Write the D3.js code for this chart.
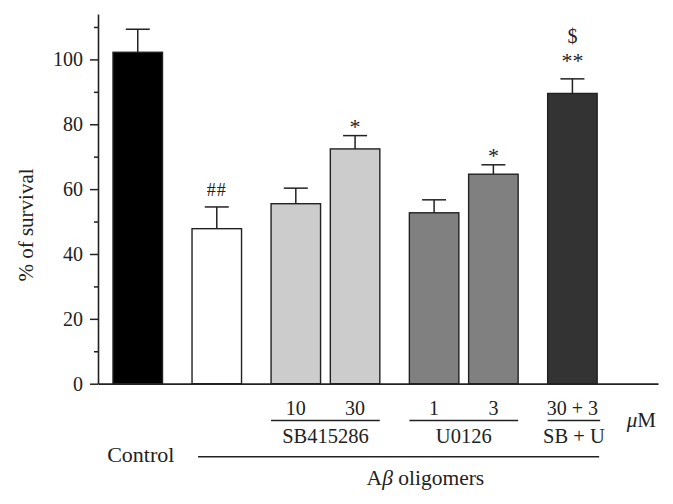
<!DOCTYPE html>
<html>
<head>
<meta charset="utf-8">
<script src="https://cdn.jsdelivr.net/npm/d3@7"></script>
<style>
  html, body { margin: 0; padding: 0; background: #fff; }
  #chart { width: 673px; height: 504px; }
  text { font-family: "Liberation Serif", "Times New Roman", serif; fill: #222; }
</style>
</head>
<body>
<div id="chart"></div>
<script>
(function () {
  'use strict';

  // --- Data ---
  var groups      = ['Control', 'Abeta', 'SB415286', 'SB415286', 'U0126', 'U0126', 'SB + U'];
  var doses       = ['', '', '10', '30', '1', '3', '30 + 3'];
  var survival    = [102.2, 47.8, 55.5, 72.4, 52.7, 64.6, 89.5];
  var sem         = [7.1, 6.7, 4.8, 4.1, 4.0, 2.9, 4.5];
  var marks       = [[], ['##'], [], ['*'], [], ['*'], ['**', '$']];
  var fills       = ['#000000', '#ffffff', '#cccccc', '#cccccc', '#808080', '#808080', '#333333'];
  var drugGroups  = ['SB415286', 'U0126', 'SB + U'];
  var yMajor      = [0, 20, 40, 60, 80, 100];
  var yMinor      = [10, 30, 50, 70, 90, 110];

  var ink = '#222';

  // Slot positions: bars of the same group sit closer than bars of different groups
  var slots = [];
  groups.forEach(function (g, i) {
    if (i === 0) slots.push(0);
    else slots.push(slots[i - 1] + (g === groups[i - 1] ? 0.75 : 1));
  });

  var bars = survival.map(function (v, i) {
    return { value: v, sem: sem[i], group: groups[i], dose: doses[i], mark: marks[i], fill: fills[i], slot: slots[i] };
  });

  // --- Scales ---
  var x = d3.scaleLinear().domain([-0.503, 6.583]).range([98, 658]);
  var y = d3.scaleLinear().domain([0, 114]).range([383.7, 14]);
  var bw = 49.5;

  var svg = d3.select('#chart').append('svg')
    .attr('width', 673)
    .attr('height', 504);

  // --- Axes ---
  var yAxis = svg.append('g')
    .attr('transform', 'translate(' + x.range()[0] + ',0)')
    .call(d3.axisLeft(y).tickValues(yMajor).tickSize(8).tickSizeOuter(0).tickPadding(7));
  yAxis.select('.domain').attr('stroke', ink).attr('stroke-width', 1.6);
  yAxis.selectAll('.tick line').attr('stroke', ink).attr('stroke-width', 1.5);
  yAxis.selectAll('.tick text')
    .attr('font-size', '20px')
    .attr('fill', ink);

  var yMinorAxis = svg.append('g')
    .attr('transform', 'translate(' + x.range()[0] + ',0)')
    .call(d3.axisLeft(y).tickValues(yMinor).tickSize(4).tickSizeOuter(0).tickFormat(''));
  yMinorAxis.select('.domain').remove();
  yMinorAxis.selectAll('.tick line').attr('stroke', ink).attr('stroke-width', 1.5);

  // Y label
  svg.append('text')
    .attr('transform', 'translate(33,225) rotate(-90)')
    .attr('text-anchor', 'middle')
    .attr('font-size', '21px')
    .text('% of survival');

  // --- Bars ---
  svg.append('g').selectAll('rect')
    .data(bars)
    .join('rect')
    .attr('x', function (d) { return x(d.slot) - bw / 2; })
    .attr('y', function (d) { return y(d.value); })
    .attr('width', bw)
    .attr('height', function (d) { return y(0) - y(d.value); })
    .attr('fill', function (d) { return d.fill; })
    .attr('stroke', ink)
    .attr('stroke-width', 1.4);

  // --- Error bars (upper only) ---
  var err = svg.append('g').attr('stroke', ink).attr('stroke-width', 1.5);
  err.selectAll('line.stem')
    .data(bars)
    .join('line')
    .attr('class', 'stem')
    .attr('x1', function (d) { return x(d.slot); })
    .attr('x2', function (d) { return x(d.slot); })
    .attr('y1', function (d) { return y(d.value); })
    .attr('y2', function (d) { return y(d.value + d.sem); });
  err.selectAll('line.cap')
    .data(bars)
    .join('line')
    .attr('class', 'cap')
    .attr('x1', function (d) { return x(d.slot) - 12; })
    .attr('x2', function (d) { return x(d.slot) + 12; })
    .attr('y1', function (d) { return y(d.value + d.sem); })
    .attr('y2', function (d) { return y(d.value + d.sem); });

  // X axis line (drawn over bar bottoms)
  var xAxis = svg.append('g')
    .attr('transform', 'translate(0,' + y(0) + ')')
    .call(d3.axisBottom(x).tickValues([]).tickSizeOuter(0));
  xAxis.select('.domain').attr('stroke', ink).attr('stroke-width', 1.8);

  // --- Significance marks ---
  // '#' sits on the baseline while '*' is raised, so lift '#' a little
  function lift(m) { return m.charAt(0) === '#' ? 9 : 0; }
  function markSize(m) { return m.charAt(0) === '*' ? '22px' : (m === '$' ? '20px' : '18px'); }

  bars.forEach(function (d) {
    var rows = d.mark.length;
    d.mark.forEach(function (m, row) {
      svg.append('text')
        .attr('x', x(d.slot))
        .attr('y', y(d.value + d.sem) - 2 - (rows - 1) * 9 - row * 25 - lift(m))
        .attr('text-anchor', 'middle')
        .attr('font-size', markSize(m))
        .attr('letter-spacing', m.charAt(0) === '#' ? '1px' : '0px')
        .text(m);
    });
  });

  // --- Dose labels ---
  svg.append('g').selectAll('text')
    .data(bars.filter(function (d) { return d.dose; }))
    .join('text')
    .attr('x', function (d) { return x(d.slot); })
    .attr('y', 415)
    .attr('text-anchor', 'middle')
    .attr('font-size', '20px')
    .text(function (d) { return d.dose; });

  svg.append('text')
    .attr('x', 656)
    .attr('y', 427)
    .attr('text-anchor', 'end')
    .attr('font-size', '21px')
    .html('<tspan font-style="italic">\u03bc</tspan>M');

  // --- Drug group brackets ---
  drugGroups.forEach(function (g) {
    var members = bars.filter(function (d) { return d.group === g; });
    var x0 = x(d3.min(members, function (d) { return d.slot; })) - bw / 2;
    var x1 = x(d3.max(members, function (d) { return d.slot; })) + bw / 2;
    if (members.length === 1) x1 += 3;
    svg.append('line')
      .attr('x1', x0).attr('x2', x1)
      .attr('y1', 420.5).attr('y2', 420.5)
      .attr('stroke', ink).attr('stroke-width', 1.5);
    svg.append('text')
      .attr('x', (x0 + x1) / 2)
      .attr('y', 442.5)
      .attr('text-anchor', 'middle')
      .attr('font-size', '20.5px')
      .text(g);
  });

  // --- Control / Abeta oligomers ---
  var control = bars[0];
  svg.append('text')
    .attr('x', x(control.slot) + 3)
    .attr('y', 462)
    .attr('text-anchor', 'middle')
    .attr('font-size', '22px')
    .text('Control');

  var treated = bars.filter(function (d) { return d.group !== 'Control'; });
  var ax0 = x(d3.min(treated, function (d) { return d.slot; })) - bw / 2 + 6;
  var ax1 = x(d3.max(treated, function (d) { return d.slot; })) + bw / 2 + 2;
  svg.append('line')
    .attr('x1', ax0).attr('x2', ax1)
    .attr('y1', 456.7).attr('y2', 456.7)
    .attr('stroke', ink).attr('stroke-width', 1.6);

  svg.append('text')
    .attr('x', x(3.64))
    .attr('y', 485)
    .attr('text-anchor', 'middle')
    .attr('font-size', '21.5px')
    .html('A<tspan font-style="italic">\u03b2</tspan> oligomers');
})();
</script>
</body>
</html>
